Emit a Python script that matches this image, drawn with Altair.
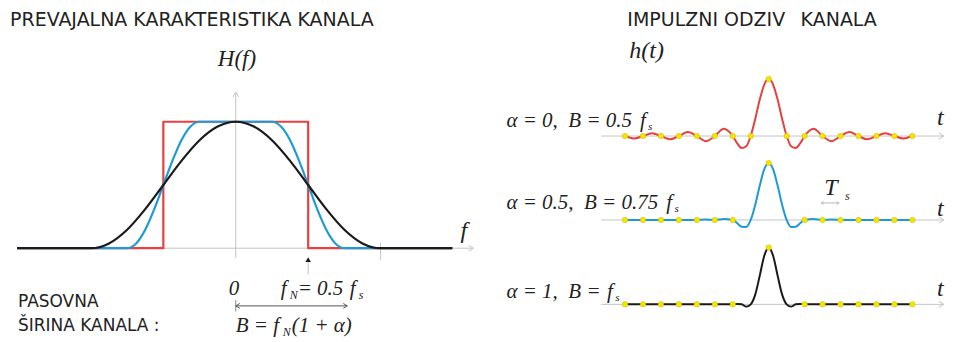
import altair as alt
import pandas as pd

# ---------------- data: spectra H(f), f in units of f_N ----------------
F_A0 = [-3.02, -1.0, -1.0, 1.0, 1.0, 2.99]
H_A0 = [0, 0, 1, 1, 0, 0]
F_A05 = [-3.02, -1.5, -1.375, -1.25, -1.125, -1.0, -0.875, -0.75, -0.625, -0.5,
         0.5, 0.625, 0.75, 0.875, 1.0, 1.125, 1.25, 1.375, 1.5, 2.99]
H_A05 = [0, 0, 0.038, 0.146, 0.309, 0.5, 0.691, 0.854, 0.962, 1,
         1, 0.962, 0.854, 0.691, 0.5, 0.309, 0.146, 0.038, 0, 0]
F_A1 = [-3.02, -2, -1.75, -1.5, -1.25, -1, -0.75, -0.5, -0.25, 0,
        0.25, 0.5, 0.75, 1, 1.25, 1.5, 1.75, 2, 2.99]
H_A1 = [0, 0, 0.038, 0.146, 0.309, 0.5, 0.691, 0.854, 0.962, 1,
        0.962, 0.854, 0.691, 0.5, 0.309, 0.146, 0.038, 0, 0]

# ---------------- data: impulse responses h(t), t in units of T_s ----------------
T = [-8, -7.5, -7, -6.5, -6, -5.5, -5, -4.5, -4, -3.5, -3, -2.5, -2,
     -1.75, -1.5, -1.25, -1, -0.75, -0.5, -0.25, 0, 0.25, 0.5, 0.75, 1, 1.25, 1.5, 1.75,
     2, 2.5, 3, 3.5, 4, 4.5, 5, 5.5, 6, 6.5, 7, 7.5, 8]
HT_A0 = [0, -0.042, 0, 0.049, 0, -0.058, 0, 0.071, 0, -0.091, 0, 0.127, 0,
         -0.129, -0.212, -0.180, 0, 0.300, 0.637, 0.900, 1, 0.900, 0.637, 0.300, 0, -0.180, -0.212, -0.129,
         0, 0.127, 0, -0.091, 0, 0.071, 0, -0.058, 0, 0.049, 0, -0.042, 0]
HT_A05 = [0, 0, 0, 0, 0, 0, 0, -0.003, 0, 0.006, 0, 0.017, 0,
          -0.058, -0.120, -0.123, 0, 0.263, 0.600, 0.887, 1, 0.887, 0.600, 0.263, 0, -0.123, -0.120, -0.058,
          0, 0.017, 0, 0.006, 0, -0.003, 0, 0, 0, 0, 0, 0, 0]
HT_A1 = [0, 0, 0, 0, 0, 0, 0, 0, 0, 0, 0, 0, 0,
         0.008, 0, -0.040, 0, 0.170, 0.5, 0.849, 1, 0.849, 0.5, 0.170, 0, -0.040, 0, 0.008,
         0, 0, 0, 0, 0, 0, 0, 0, 0, 0, 0, 0, 0]

# sampling instants (yellow dots)
ST_A0 = [-8, -7, -6, -5, -4, -3, -2, -1, 0, 1, 2, 3, 4, 5, 6, 7, 8]
SH_A0 = [0, 0, 0, 0, 0, 0, 0, 0, 1, 0, 0, 0, 0, 0, 0, 0, 0]
ST_A05 = [-8, -7, -6, -5, -4, -3, -2, 0, 2, 3, 4, 5, 6, 7, 8]
SH_A05 = [0, 0, 0, 0, 0, 0, 0, 1, 0, 0, 0, 0, 0, 0, 0]
ST_A1 = [-8, -7, -6, -5, -4, -3, -2, 0, 2, 3, 4, 5, 6, 7, 8]
SH_A1 = [0, 0, 0, 0, 0, 0, 0, 1, 0, 0, 0, 0, 0, 0, 0]

# ---------------- style ----------------
SANS = "DejaVu Sans"
SERIF = "Liberation Serif"
RED, BLUE, BLACK = "#e8403f", "#1e9ad6", "#1a1a1a"
YELLOW, GRAY, INK = "#f5e600", "#c4c4c4", "#222222"
CHEV = "M-1,-0.6L0,0L-1,0.6"

XL = alt.Scale(domain=[-3.145, 3.338], nice=False, zero=False)
YL = alt.Scale(domain=[-0.677, 1.898], nice=False, zero=False)
XR = alt.Scale(domain=[-14.99, 9.817], nice=False, zero=False)
YR1 = alt.Scale(domain=[-0.351, 2.246], nice=False, zero=False)
YR2 = alt.Scale(domain=[-0.351, 1.123], nice=False, zero=False)
YR3 = alt.Scale(domain=[-0.518, 1.132], nice=False, zero=False)


def xy(xs, ys):
    return dict(x=alt.X("x:Q", scale=xs, axis=None), y=alt.Y("y:Q", scale=ys, axis=None))


def line(xv, yv, xs, ys, color, width, interp="linear"):
    df = pd.DataFrame({"x": xv, "y": yv, "i": list(range(len(xv)))})
    return alt.Chart(df).mark_line(color=color, strokeWidth=width, interpolate=interp,
                                   strokeJoin="round").encode(order="i:Q", **xy(xs, ys))


def seg(x1, y1, x2, y2, xs, ys, color=GRAY, width=1):
    df = pd.DataFrame({"x": [x1], "y": [y1], "x2": [x2], "y2": [y2]})
    return alt.Chart(df).mark_rule(color=color, strokeWidth=width).encode(
        x2="x2:Q", y2="y2:Q", **xy(xs, ys))


def head(x, y, angle, xs, ys, color=GRAY, size=100, shape=CHEV, filled=False):
    df = pd.DataFrame({"x": [x], "y": [y]})
    return alt.Chart(df).mark_point(shape=shape, angle=angle, size=size, filled=filled,
                                    color=color, strokeWidth=1, opacity=1).encode(**xy(xs, ys))


def dots(xv, yv, xs, ys):
    df = pd.DataFrame({"x": xv, "y": yv})
    return alt.Chart(df).mark_circle(size=30, color=YELLOW, opacity=1, stroke="#c9b800",
                                     strokeWidth=0.5).encode(**xy(xs, ys))


def texts(rows, xs, ys, font, style="normal", color=INK):
    df = pd.DataFrame(rows, columns=["x", "y", "text", "size"])
    return alt.Chart(df).mark_text(font=font, fontStyle=style, align="left", baseline="middle",
                                   color=color).encode(
        text="text:N", size=alt.Size("size:Q", scale=None, legend=None), **xy(xs, ys))


# ---------------- left panel ----------------
left = alt.layer(
    seg(-3.02, 0, 3.28, 0, XL, YL),
    head(3.28, 0, 0, XL, YL),
    seg(0, -0.077, 0, 1.235, XL, YL),
    head(0, 1.235, 270, XL, YL),
    seg(2, -0.092, 2, 0.042, XL, YL),
    seg(1, -0.211, 1, -0.10, XL, YL),
    head(1, -0.09, 0, XL, YL, color=BLACK, size=30, shape="triangle-up", filled=True),
    line(F_A0, H_A0, XL, YL, RED, 2.2),
    line(F_A05, H_A05, XL, YL, BLUE, 2.2, "monotone"),
    line(F_A1, H_A1, XL, YL, BLACK, 2.2, "monotone"),
    seg(0, -0.456, 1.54, -0.456, XL, YL, color="#555555"),
    seg(0, -0.41, 0, -0.50, XL, YL, color="#888888"),
    head(0, -0.456, 180, XL, YL, color="#555555", size=64),
    head(1.54, -0.456, 0, XL, YL, color="#555555", size=64),
    texts([[-3.117, 1.805, "PREVAJALNA KARAKTERISTIKA KANALA", 19],
           [-3.007, -0.424, "PASOVNA", 17],
           [-3.007, -0.614, "ŠIRINA KANALA :", 17]], XL, YL, SANS),
    texts([[-0.248, 1.500, "H(f)", 23],
           [3.103, 0.137, "f", 24],
           [-0.097, -0.321, "0", 21],
           [0.621, -0.321, "f", 21],
           [0.855, -0.321, "= 0.5", 21],
           [1.573, -0.321, "f", 21],
           [0.0, -0.614, "B = f", 21],
           [0.772, -0.614, "(1 + α)", 21]], XL, YL, SERIF, "italic"),
    texts([[0.745, -0.369, "N", 12],
           [1.697, -0.369, "s", 12],
           [0.648, -0.661, "N", 12]], XL, YL, SERIF, "italic"),
).properties(width=470, height=326)


# ---------------- right panel rows ----------------
def row(ys, ht, st, sh, color, extra):
    return alt.layer(
        seg(-9.32, 0, 9.75, 0, XR, ys),
        head(9.75, 0, 0, XR, ys),
        line(T, ht, XR, ys, color, 2.0, "monotone"),
        dots(st, sh, XR, ys),
        *extra,
    )


r1 = row(YR1, HT_A0, ST_A0, SH_A0, RED, [
    texts([[-7.870, 2.045, "IMPULZNI ODZIV \u2002KANALA", 19]], XR, YR1, SANS),
    texts([[-7.759, 1.490, "h(t)", 24],
           [-14.60, 0.263, "α = 0,\u2002B = 0.5", 21],
           [-7.17, 0.263, "f", 21],
           [-6.72, 0.158, "s", 11],
           [9.37, 0.316, "t", 24]], XR, YR1, SERIF, "italic"),
]).properties(width=446, height=148)

r2 = row(YR2, HT_A05, ST_A05, SH_A05, BLUE, [
    seg(2.92, 0.298, 3.92, 0.298, XR, YR2, color="#bbbbbb"),
    head(2.92, 0.298, 180, XR, YR2, color="#bbbbbb", size=25),
    head(3.92, 0.298, 0, XR, YR2, color="#bbbbbb", size=25),
    texts([[-14.60, 0.298, "α = 0.5,\u2002B = 0.75", 21],
           [-5.70, 0.298, "f", 21],
           [-5.25, 0.193, "s", 11],
           [3.087, 0.561, "T", 24],
           [4.255, 0.421, "s", 12],
           [9.37, 0.193, "t", 24]], XR, YR2, SERIF, "italic"),
]).properties(width=446, height=84)

r3 = row(YR3, HT_A1, ST_A1, SH_A1, BLACK, [
    texts([[-14.60, 0.219, "α = 1,\u2002B =", 21],
           [-9.00, 0.219, "f", 21],
           [-8.55, 0.114, "s", 11],
           [9.37, 0.272, "t", 24]], XR, YR3, SERIF, "italic"),
]).properties(width=446, height=94)

right = alt.vconcat(r1, r2, r3, spacing=0, bounds="flush").resolve_scale(x="independent", y="independent")

chart = (
    alt.hconcat(left, right, spacing=22, bounds="flush")
    .resolve_scale(x="independent", y="independent")
    .properties(padding=0)
    .configure_view(stroke=None)
)

chart.save("out.html", embed_options={"renderer": "svg", "actions": False})
